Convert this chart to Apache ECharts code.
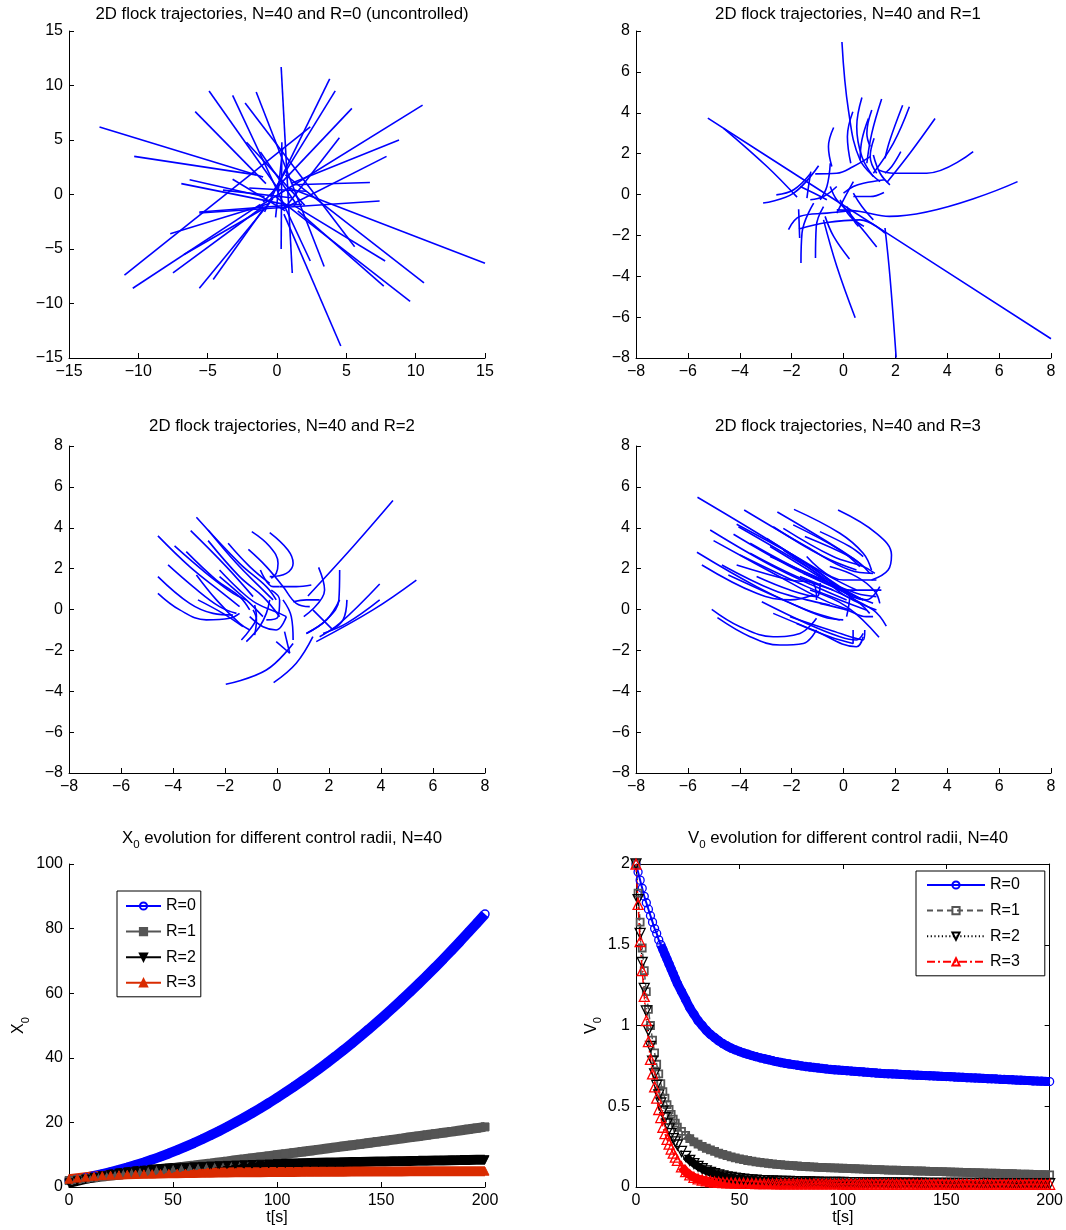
<!DOCTYPE html>
<html><head><meta charset="utf-8">
<script src="https://cdn.jsdelivr.net/npm/echarts@6/dist/echarts.min.js"></script>
<style>html,body{margin:0;padding:0;background:#fff}#c{width:1066px;height:1230px}</style>
</head><body><div id="c"></div>
<script>
// ---------- DATA ----------
const TITLES = [
  '2D flock trajectories, N=40 and R=0 (uncontrolled)',
  '2D flock trajectories, N=40 and R=1',
  '2D flock trajectories, N=40 and R=2',
  '2D flock trajectories, N=40 and R=3'
];
const SERIES_NAMES = ['R=0','R=1','R=2','R=3'];

const TRAJ_R0 = [
[[-12.8,6.2],[-1.0,1.6]],[[-10.3,3.5],[-1.5,1.8]],[[-6.9,1.0],[0.9,-1.0]],[[-6.3,1.35],[-0.9,-0.2]],
[[-7.7,-3.6],[-0.5,-0.8]],[[-11.0,-7.4],[2.4,6.2]],[[0.3,11.7],[1.1,-7.2]],[[3.8,10.6],[-0.9,-1.6]],
[[4.2,9.5],[-0.5,-0.2]],[[-4.9,9.5],[0.2,0.3]],[[-3.2,9.1],[2.4,-6.1]],[[-1.5,9.4],[3.4,-6.6]],
[[-2.3,8.4],[5.6,-4.8]],[[-5.9,7.6],[-0.8,1.0]],[[5.4,7.9],[-1.0,-0.7]],[[10.5,8.2],[-1.3,-1.1]],
[[8.8,5.0],[1.0,1.0]],[[7.9,3.5],[0.3,-1.4]],[[6.7,1.1],[1.2,0.9]],[[7.4,-0.6],[-5.6,-1.7]],
[[15.0,-6.3],[0.9,0.6]],[[10.6,-8.1],[0.6,1.8]],[[9.6,-9.8],[-0.1,-0.2]],[[7.7,-8.4],[1.5,-1.5]],
[[7.8,-6.1],[1.2,-1.0]],[[4.6,-13.9],[0.5,-1.8]],[[0.3,-5.0],[0.35,4.8]],[[-5.6,-8.6],[-0.3,-0.4]],
[[-4.6,-7.8],[-0.9,-1.2]],[[-7.5,-7.2],[-1.0,-1.1]],[[-10.4,-8.6],[-1.2,-0.9]],[[-6.7,-5.5],[-1.1,-1.4]],
[[-2.2,4.8],[2.0,-1.0]],[[4.5,5.2],[0.6,-1.2]],[[-3.2,1.4],[0.6,-1.5]],[[-3.9,0.4],[1.0,-0.3]],
[[-5.6,-1.6],[1.8,-0.9]],[[-0.1,-2.1],[0.4,4.2]],[[-1.2,3.9],[1.4,-0.9]],[[-2.0,0.6],[2.1,0.3]]
];

const TRAJ_R1 = [
[[-5.23,3.74],[-2.0,1.1],[1.6,-1.83],[8.0,-7.06]],
[[-0.06,7.46],[0.19,4.13],[0.64,1.69],[1.41,0.63]],
[[2.03,-7.98],[1.79,-4.0],[1.6,-1.64]],
[[0.45,-6.03],[-0.26,-3.51],[-0.77,-1.24]],
[[6.71,0.63],[1.77,-1.07],[0.64,-0.83],[-0.26,-0.75]],
[[5.0,2.1],[3.21,1.04],[1.92,1.04],[1.35,1.2]],
[[3.53,3.72],[2.56,2.02],[1.67,0.59]],
[[2.54,4.29],[1.92,2.5],[1.15,1.04]],
[[2.28,4.37],[1.79,2.67],[1.6,1.77]],
[[1.47,4.67],[1.09,2.99],[0.9,1.53]],
[[0.71,4.75],[0.51,3.32],[0.71,1.85],[1.15,0.88]],
[[-0.38,3.28],[-0.58,2.34],[-0.45,1.37]],
[[0.36,4.05],[0.15,2.83],[0.28,1.53]],
[[0.96,3.72],[0.71,2.67],[0.64,1.69]],
[[2.21,2.1],[1.86,1.37],[1.6,1.04]],
[[1.18,2.75],[1.03,1.85],[1.28,1.04]],
[[-3.1,-0.42],[-1.92,0.07],[-0.96,1.41]],
[[-2.59,-0.02],[-1.92,0.23],[-1.28,1.01]],
[[-2.12,-1.72],[-1.67,-1.07],[-0.64,-0.91],[0.38,-0.78]],
[[-1.64,-3.35],[-1.6,-1.89],[-1.15,-0.42]],
[[-1.08,-3.11],[-1.05,-1.56],[-0.77,-0.59]],
[[0.23,-3.15],[-0.38,-2.05],[-0.71,-1.07]],
[[1.28,-2.57],[0.64,-1.56],[0.13,-0.75]],
[[-1.73,-0.72],[-1.69,-2.13]],
[[0.79,-1.56],[0.26,-1.07],[-0.13,-0.26]],
[[-1.72,-1.69],[-0.64,-1.37],[0.64,-1.24],[1.6,-1.89]],
[[-0.51,1.53],[-0.64,0.39],[-0.9,-0.26]],
[[-1.26,1.12],[-1.35,0.39],[-1.41,-0.18]],
[[1.56,0.1],[1.03,-0.1],[0.38,-0.1]],
[[0.38,0.63],[0.0,-0.26],[-0.26,-0.91]],
[[-4.62,3.24],[-2.95,1.37],[-1.79,-0.13]],
[[-1.09,1.01],[-0.26,1.04],[0.38,1.37],[1.03,1.85]],
[[1.15,1.93],[1.41,1.04],[1.79,0.47]],
[[0.0,0.07],[0.38,0.39],[0.77,0.55],[1.6,0.72]],
[[0.13,-0.59],[0.38,-1.24],[0.58,-1.56]],
[[-1.28,-0.26],[-0.77,-0.1],[-0.26,0.39]],
[[1.09,4.13],[0.9,2.99],[1.03,2.34]],
[[-0.51,0.39],[-0.26,-0.26],[0.26,-0.91]],
[[-1.67,0.39],[-1.15,0.07],[-0.64,-0.26]],
[[0.38,0.07],[0.71,-0.59],[1.15,-1.24]]
];

const TRAJ_R2 = [
[[4.46,5.33],[2.92,3.07],[1.19,0.66]],
[[5.36,1.44],[3.69,-0.02],[1.51,-1.57]],
[[3.95,1.25],[2.41,-0.68],[1.64,-1.33]],
[[3.95,0.47],[2.67,-0.68],[1.77,-1.17]],
[[2.69,0.47],[2.54,-0.51],[2.09,-1.0]],
[[2.41,1.93],[2.38,0.47],[1.9,-0.51],[1.13,-1.17]],
[[1.6,2.06],[1.83,0.95],[1.03,-0.35]],
[[1.38,-0.02],[2.15,-1.0]],
[[-1.97,-3.66],[-0.41,-2.96],[0.62,-1.66]],
[[-0.13,-3.58],[0.74,-2.63],[1.38,-1.33]],
[[-0.03,-1.57],[0.49,-2.14]],
[[0.29,-1.08],[0.49,-2.14]],
[[1.32,1.2],[0.74,1.12],[0.1,1.12]],
[[1.64,0.47],[1.13,0.47],[0.62,0.38]],
[[-0.28,3.76],[0.42,2.91],[0.62,2.26],[0.36,1.77],[-0.28,1.61]],
[[-0.97,3.81],[-0.28,3.08],[0.04,2.26],[-0.03,1.77],[-0.22,1.53]],
[[-1.1,2.94],[-0.41,2.1],[0.23,1.12],[0.74,0.3],[1.26,0.14]],
[[-3.1,4.51],[-1.44,2.26],[-0.41,1.12],[-0.03,0.47]],
[[-3.32,3.86],[-1.95,2.1],[-0.92,0.63]],
[[-4.58,3.6],[-3.36,2.1],[-2.08,0.79],[-1.44,0.14]],
[[-4.58,1.61],[-3.36,0.3],[-2.46,-0.19],[-1.69,-0.27]],
[[-4.58,0.79],[-3.74,-0.02],[-2.72,-0.51],[-1.82,-0.43],[-1.44,-0.19]],
[[-4.19,2.18],[-3.23,1.12],[-2.21,0.14],[-1.56,-0.19]],
[[-3.94,3.11],[-2.72,1.77],[-1.69,0.79],[-1.18,0.47]],
[[-3.49,2.83],[-2.33,1.44],[-1.44,0.63],[-1.05,-0.02]],
[[-2.65,3.89],[-1.56,2.26],[-0.67,1.12],[-0.15,0.47]],
[[-2.65,3.37],[-1.44,1.61],[-0.54,0.63],[0.1,-0.35]],
[[-1.88,3.24],[-1.05,2.1],[-0.28,1.28]],
[[-2.21,1.93],[-1.44,0.95],[-0.79,0.3],[0.1,-0.19],[0.36,-0.35]],
[[-3.1,1.69],[-2.33,0.47],[-1.44,-0.68],[-1.05,-1.0]],
[[-3.04,0.47],[-2.08,-0.19],[-1.31,-0.84]],
[[-1.37,-1.49],[-1.05,-1.0],[-0.79,-0.35],[-0.86,0.22]],
[[-1.18,-1.57],[-0.67,-0.84],[-0.41,-0.19],[-0.28,0.47]],
[[-0.86,-1.25],[-0.79,-0.51],[-0.92,-0.02]],
[[0.36,-0.35],[-0.03,-1.0],[-0.54,-0.84],[-1.05,-0.35]],
[[-0.22,0.95],[0.1,0.47],[0.04,-0.35],[-0.41,-0.51]],
[[0.62,-1.49],[0.55,-0.35],[0.23,0.47]],
[[1.13,-1.17],[1.9,-0.51],[2.41,0.47]],
[[-0.64,1.93],[-0.15,1.12],[0.1,1.12]],
[[-2.21,1.61],[-1.18,0.47],[-0.54,-0.35]]
];

const TRAJ_R3 = [
[[-5.63,5.49],[-2.06,2.75],[-0.14,1.12],[0.76,0.47]],
[[-3.83,4.87],[-1.42,3.07],[0.24,1.93],[1.14,1.77]],
[[-2.55,4.77],[-0.53,3.24],[0.63,2.26],[1.01,1.77]],
[[-1.91,4.9],[-0.14,3.73],[0.76,2.75],[1.08,1.93]],
[[-0.21,4.87],[1.27,3.73],[1.85,2.67],[1.72,1.93],[1.08,1.44]],
[[-5.14,3.89],[-2.71,2.1],[-0.78,0.95],[0.12,0.47]],
[[-4.12,4.17],[-2.06,2.75],[-0.53,1.61],[0.5,0.95]],
[[-4.24,3.68],[-2.06,2.1],[-0.14,0.95],[1.14,0.3]],
[[-5.01,3.37],[-2.71,1.77],[-0.78,0.47],[0.24,-0.02]],
[[-5.65,2.8],[-3.35,1.12],[-1.42,-0.02],[-0.14,-0.51]],
[[-5.46,2.18],[-3.35,0.79],[-2.06,0.47],[-1.17,0.71]],
[[-4.69,2.18],[-2.71,0.95],[-1.42,0.47],[-0.53,0.22]],
[[-4.44,1.69],[-2.32,0.47],[-0.78,-0.35],[-0.01,-0.51]],
[[-3.15,0.38],[-1.42,-0.68],[-0.14,-1.33],[0.5,-1.49],[0.76,-1.17]],
[[-5.08,0.01],[-3.99,-0.84],[-2.71,-1.33],[-1.68,-1.17],[-1.04,-0.43]],
[[-4.86,-0.4],[-3.6,-1.33],[-2.45,-1.74],[-1.55,-1.66],[-1.04,-1.0]],
[[-3.99,2.67],[-1.42,1.12],[-0.14,0.47],[0.88,-0.02]],
[[-3.6,3.24],[-1.42,1.77],[0.5,0.79],[1.27,0.63]],
[[-2.83,2.59],[-0.78,1.44],[0.88,0.47],[1.4,1.12]],
[[-2.71,4.05],[-0.78,2.59],[0.5,1.93]],
[[-2.32,3.97],[-0.4,2.59],[0.76,2.1],[1.21,1.77]],
[[-1.94,4.14],[-0.14,2.91],[0.63,2.1]],
[[-1.49,3.57],[0.24,2.59],[0.76,2.1]],
[[-4.05,4.05],[-1.42,2.1],[-0.01,0.95],[0.76,0.47]],
[[-2.83,3.08],[-0.53,1.28],[0.24,0.63],[0.12,-0.35]],
[[-1.68,1.61],[-0.14,0.79],[1.14,-0.02],[1.65,-0.81]],
[[-1.29,0.95],[0.12,0.14],[1.37,-1.36]],
[[-2.06,-0.35],[-0.53,-1.0],[0.76,-1.49],[0.82,-1.0]],
[[-1.55,1.77],[-0.14,0.95],[0.63,0.3],[1.01,-0.19]],
[[-0.91,0.3],[0.12,-0.02],[0.88,-0.35],[1.14,-0.35]],
[[-0.53,2.1],[0.5,1.61],[1.2,0.9],[1.4,0.3]],
[[-1.42,2.59],[-0.01,1.44],[1.27,1.44]],
[[-3.35,1.61],[-2.06,0.95],[-1.04,0.63],[-0.9,1.3]],
[[-2.71,-0.19],[-1.17,-1.0],[0.5,-1.82],[0.76,-1.33]],
[[-1.81,-0.68],[-0.53,-1.33],[0.37,-1.66],[0.37,-1.0]],
[[-2.32,2.91],[-1.04,1.77],[0.12,0.63],[1.27,-0.02]],
[[-3.6,2.75],[-1.81,1.61],[-0.4,0.95]],
[[-4.12,2.18],[-2.06,1.44],[-1.17,1.28],[-1.04,0.47]],
[[-2.96,3.48],[-1.04,1.93],[0.24,0.95],[1.46,0.95]],
[[-0.91,3.81],[0.24,3.08],[0.76,2.59]]
];

// X0 evolution, sampled every 4 s
const T_X = [0,4,8,12,16,20,24,28,32,36,40,44,48,52,56,60,64,68,72,76,80,84,88,92,96,100,104,108,112,116,120,124,128,132,136,140,144,148,152,156,160,164,168,172,176,180,184,188,192,196,200];
const X0_R0 = [2.0,2.42,2.9,3.42,3.99,4.62,5.29,6.01,6.79,7.61,8.48,9.41,10.38,11.41,12.48,13.6,14.78,16.0,17.28,18.6,19.98,21.4,22.88,24.4,25.97,27.6,29.28,31.0,32.78,34.6,36.48,38.4,40.38,42.4,44.48,46.6,48.78,51.01,53.28,55.61,57.98,60.41,62.89,65.41,67.99,70.62,73.29,76.02,78.8,81.62,84.5];
const X0_R1 = [2.0,2.3,2.6,2.91,3.21,3.52,3.82,4.13,4.44,4.75,5.06,5.38,5.69,6.01,6.33,6.64,6.96,7.28,7.61,7.93,8.26,8.58,8.91,9.24,9.57,9.9,10.23,10.57,10.9,11.24,11.58,11.92,12.26,12.6,12.94,13.28,13.63,13.98,14.32,14.67,15.02,15.38,15.73,16.08,16.44,16.8,17.15,17.51,17.87,18.24,18.6];
const X0_R2 = [1.3,1.9,2.5,3.0,3.5,3.9,4.3,4.6,4.9,5.15,5.4,5.6,5.8,5.95,6.1,6.25,6.38,6.5,6.6,6.7,6.8,6.88,6.96,7.04,7.11,7.18,7.25,7.31,7.37,7.43,7.49,7.55,7.6,7.66,7.71,7.76,7.81,7.86,7.91,7.96,8.01,8.06,8.1,8.15,8.2,8.24,8.29,8.33,8.38,8.42,8.46];
const X0_R3 = [2.4,2.75,3.05,3.3,3.5,3.67,3.8,3.91,4.0,4.07,4.13,4.19,4.24,4.29,4.33,4.37,4.41,4.44,4.47,4.5,4.53,4.55,4.58,4.6,4.62,4.64,4.66,4.68,4.69,4.71,4.72,4.74,4.75,4.76,4.77,4.78,4.79,4.8,4.81,4.82,4.83,4.84,4.84,4.85,4.86,4.86,4.87,4.88,4.88,4.89,4.9];

// V0 evolution
const T_V = [0,1,2,3,4,5,6,7,8,9,10,11,12,13,14,15,16,17,18,19,20,22,24,26,28,30,32,34,36,38,40,42,44,46,48,50,52,54,56,58,60,62,64,66,68,70,72,74,76,78,80,82,84,86,88,90,92,94,96,98,100,102,104,106,108,110,112,114,116,118,120,122,124,126,128,130,132,134,136,138,140,142,144,146,148,150,152,154,156,158,160,162,164,166,168,170,172,174,176,178,180,182,184,186,188,190,192,194,196,198,200];
const V0_R0 = [2.0,1.95,1.9,1.85,1.8,1.76,1.72,1.68,1.64,1.6,1.57,1.53,1.5,1.47,1.44,1.41,1.38,1.35,1.32,1.29,1.26,
1.21,1.16,1.11,1.07,1.03,1.0,0.97,0.945,0.925,0.905,0.888,0.873,0.86,0.849,0.839,0.83,0.822,0.814,0.807,0.8,
0.794,0.788,0.782,0.776,0.771,0.766,0.762,0.758,0.754,0.75,
0.746,0.743,0.74,0.737,0.734,0.731,0.728,0.726,0.724,0.722,
0.72,0.718,0.716,0.714,0.712,0.71,0.708,0.706,0.704,0.702,
0.701,0.7,0.699,0.697,0.696,0.695,0.693,0.692,0.691,0.69,
0.689,0.688,0.686,0.685,0.684,0.683,0.681,0.68,0.679,0.677,
0.676,0.675,0.674,0.672,0.671,0.67,0.669,0.667,0.666,0.665,
0.664,0.662,0.661,0.66,0.659,0.657,0.656,0.655,0.654,0.653];
const V0_R1 = [2.0,1.82,1.64,1.48,1.34,1.21,1.1,1.0,0.91,0.83,0.76,0.7,0.64,0.59,0.55,0.51,0.48,0.45,0.42,0.395,0.37,
0.345,0.32,0.3,0.28,0.265,0.252,0.24,0.23,0.22,0.21,0.202,0.194,0.187,0.18,0.174,0.169,0.164,0.16,0.156,0.152,
0.149,0.146,0.143,0.14,0.138,0.136,0.134,0.132,0.13,0.128,
0.127,0.125,0.124,0.122,0.121,0.12,0.119,0.118,0.117,0.116,
0.115,0.114,0.113,0.112,0.111,0.11,0.109,0.108,0.107,0.106,
0.105,0.104,0.104,0.103,0.102,0.101,0.1,0.099,0.099,0.098,
0.097,0.096,0.095,0.095,0.094,0.093,0.092,0.092,0.091,0.09,
0.089,0.089,0.088,0.087,0.086,0.086,0.085,0.084,0.083,0.083,
0.082,0.081,0.08,0.08,0.079,0.078,0.077,0.077,0.076,0.075];
const V0_R2 = [2.0,1.78,1.57,1.39,1.23,1.09,0.97,0.87,0.78,0.7,0.63,0.57,0.52,0.47,0.43,0.39,0.36,0.33,0.3,0.28,0.26,
0.22,0.19,0.165,0.145,0.128,0.113,0.1,0.09,0.082,0.075,0.069,0.063,0.059,0.055,0.052,0.049,0.046,0.044,0.042,0.04,
0.039,0.038,0.037,0.036,0.035,0.034,0.034,0.033,0.032,0.032,
0.031,0.031,0.03,0.03,0.029,0.029,0.029,0.028,0.028,0.028,
0.027,0.027,0.027,0.027,0.026,0.026,0.026,0.026,0.025,0.025,
0.025,0.025,0.025,0.024,0.024,0.024,0.024,0.024,0.024,0.023,
0.023,0.023,0.023,0.023,0.023,0.023,0.022,0.022,0.022,0.022,
0.022,0.022,0.022,0.022,0.022,0.021,0.021,0.021,0.021,0.021,
0.021,0.021,0.021,0.021,0.021,0.021,0.02,0.02,0.02,0.02];
const V0_R3 = [2.0,1.75,1.52,1.34,1.18,1.03,0.9,0.79,0.7,0.62,0.55,0.48,0.43,0.37,0.33,0.295,0.265,0.235,0.21,0.185,0.165,
0.125,0.095,0.075,0.06,0.05,0.043,0.038,0.034,0.031,0.029,0.027,0.026,0.025,0.024,0.0235,0.023,0.0225,0.022,0.0215,0.021,
0.0208,0.0206,0.0204,0.0202,0.02,0.0199,0.0198,0.0197,0.0196,0.0195,
0.0194,0.0193,0.0192,0.0191,0.019,0.019,0.0189,0.0188,0.0188,0.0187,
0.0186,0.0186,0.0185,0.0185,0.0184,0.0184,0.0183,0.0183,0.0182,0.0182,
0.0181,0.0181,0.018,0.018,0.018,0.0179,0.0179,0.0178,0.0178,0.0178,
0.0177,0.0177,0.0177,0.0176,0.0176,0.0176,0.0175,0.0175,0.0175,0.0174,
0.0174,0.0174,0.0173,0.0173,0.0173,0.0172,0.0172,0.0172,0.0171,0.0171,
0.0171,0.017,0.017,0.017,0.017,0.0169,0.0169,0.0169,0.0168,0.0168];

// ---------- CHART ----------
const FONT = '"Liberation Sans", Arial, Helvetica, sans-serif';
const BLUE = '#0000ff';
const minus = v => String(v).replace('-', '\u2212');
const zip = (t, v) => t.map((x, i) => [x, v[i]]);

function mkAxis(o) {
  return Object.assign({
    type: 'value',
    axisLine: {show: true, onZero: false, lineStyle: {color: '#000', width: 1}},
    axisTick: {show: true, inside: true, length: 5, lineStyle: {color: '#000', width: 1}},
    splitLine: {show: false},
    axisLabel: {show: true, color: '#000', fontSize: 16, fontFamily: FONT, margin: 6, formatter: minus}
  }, o);
}
const nameStyle = {
  color: '#000', fontFamily: FONT, fontSize: 16,
  rich: {
    n: {fontSize: 16, lineHeight: 18, fontFamily: FONT, color: '#000', verticalAlign: 'top'},
    s: {fontSize: 11, lineHeight: 12, fontFamily: FONT, color: '#000', verticalAlign: 'top', padding: [9, 0, 0, 0]}
  }
};

const grid = [
  {left: 69, top: 31, width: 416, height: 327},
  {left: 636, top: 31, width: 415, height: 327},
  {left: 69, top: 446, width: 416, height: 327},
  {left: 636, top: 446, width: 415, height: 327},
  {left: 69, top: 864, width: 416, height: 323},
  {left: 636, top: 864, width: 415, height: 323}
];

const xAxis = [
  mkAxis({gridIndex: 0, min: -15, max: 15, interval: 5}),
  mkAxis({gridIndex: 1, min: -8, max: 8, interval: 2}),
  mkAxis({gridIndex: 2, min: -8, max: 8, interval: 2}),
  mkAxis({gridIndex: 3, min: -8, max: 8, interval: 2}),
  mkAxis({gridIndex: 4, min: 0, max: 200, interval: 50, name: 't[s]', nameLocation: 'middle', nameGap: 22,
          nameTextStyle: {color: '#000', fontFamily: FONT, fontSize: 16}}),
  mkAxis({gridIndex: 5, min: 0, max: 200, interval: 50, name: 't[s]', nameLocation: 'middle', nameGap: 22,
          nameTextStyle: {color: '#000', fontFamily: FONT, fontSize: 16}}),
  mkAxis({gridIndex: 5, min: 0, max: 200, interval: 50, position: 'top', axisLabel: {show: false}})
];
const yAxis = [
  mkAxis({gridIndex: 0, min: -15, max: 15, interval: 5}),
  mkAxis({gridIndex: 1, min: -8, max: 8, interval: 2}),
  mkAxis({gridIndex: 2, min: -8, max: 8, interval: 2}),
  mkAxis({gridIndex: 3, min: -8, max: 8, interval: 2}),
  mkAxis({gridIndex: 4, min: 0, max: 100, interval: 20, name: '{n|X}{s|0}', nameLocation: 'middle', nameGap: 40, nameTextStyle: nameStyle}),
  mkAxis({gridIndex: 5, min: 0, max: 2, interval: 0.5, name: '{n|V}{s|0}', nameLocation: 'middle', nameGap: 31, nameTextStyle: nameStyle}),
  mkAxis({gridIndex: 5, min: 0, max: 2, interval: 0.5, position: 'right', axisLabel: {show: false}})
];

const series = [];
[TRAJ_R0, TRAJ_R1, TRAJ_R2, TRAJ_R3].forEach((set, p) => {
  set.forEach(line => {
    series.push({
      type: 'line', xAxisIndex: p, yAxisIndex: p, data: line,
      smooth: p === 0 ? false : 0.4, symbol: 'none', silent: true,
      lineStyle: {color: BLUE, width: 1.6}
    });
  });
});

const X_DATA = [X0_R0, X0_R1, X0_R2, X0_R3];
const X_COL = [BLUE, '#555555', '#000000', '#d92b00'];
const X_SYM = ['circle', 'rect', 'triangle', 'triangle'];
const X_ROT = [0, 0, 180, 0];
X_DATA.forEach((arr, k) => {
  series.push({
    type: 'line', name: 'X0:' + SERIES_NAMES[k], xAxisIndex: 4, yAxisIndex: 4, clip: false,
    data: zip(T_X, arr), symbol: X_SYM[k], symbolRotate: X_ROT[k], symbolSize: 8, showAllSymbol: true,
    itemStyle: k === 0 ? {color: 'rgba(0,0,0,0)', borderColor: BLUE, borderWidth: 1.5} : {color: X_COL[k], borderColor: X_COL[k], borderWidth: 1},
    lineStyle: {color: X_COL[k], width: 10}, silent: true
  });
});

const V_DATA = [V0_R0, V0_R1, V0_R2, V0_R3];
const V_COL = [BLUE, '#555555', '#000000', '#ff0000'];
const V_SYM = ['circle', 'rect', 'triangle', 'triangle'];
const V_ROT = [0, 0, 180, 0];
const V_SIZE = [8, 7, 10, 10];
const V_DASH = ['solid', [6, 4], [1.2, 2.5], [8, 3, 2, 3]];
const V_LW = [2, 1.5, 1.2, 1.5];
const V_BAND_FROM = [12, 24, 24, 22];
const V_BAND_W = [9, 8, 8, 9];
// dense-marker bands (where overlapping markers read as a solid band in the original)
V_DATA.forEach((arr, k) => {
  series.push({
    type: 'line', name: 'band' + k, xAxisIndex: 5, yAxisIndex: 5, clip: false,
    data: zip(T_V, arr).filter(d => d[0] >= V_BAND_FROM[k]), symbol: 'none', silent: true,
    smooth: 0.3, lineStyle: {color: V_COL[k], width: V_BAND_W[k]}
  });
});
V_DATA.forEach((arr, k) => {
  series.push({
    type: 'line', name: 'V0:' + SERIES_NAMES[k], xAxisIndex: 5, yAxisIndex: 5, clip: false,
    data: zip(T_V, arr), symbol: V_SYM[k], symbolRotate: V_ROT[k], symbolSize: V_SIZE[k], showAllSymbol: true,
    itemStyle: {color: 'rgba(0,0,0,0)', borderColor: V_COL[k], borderWidth: k === 1 ? 1.8 : 1.3},
    smooth: 0.3, lineStyle: {color: V_COL[k], width: V_LW[k], type: V_DASH[k]}, silent: true
  });
});

const titleStyle = {fontSize: 16.8, fontWeight: 'normal', fontFamily: FONT, color: '#000'};
const richTitle = {
  n: {fontSize: 16.8, lineHeight: 19, fontFamily: FONT, color: '#000', verticalAlign: 'top'},
  s: {fontSize: 11.5, lineHeight: 13, fontFamily: FONT, color: '#000', verticalAlign: 'top', padding: [9, 0, 0, 0]}
};
const title = [
  {text: TITLES[0], left: 277, top: 1, textAlign: 'center', textStyle: titleStyle},
  {text: TITLES[1], left: 843, top: 1, textAlign: 'center', textStyle: titleStyle},
  {text: TITLES[2], left: 277, top: 413, textAlign: 'center', textStyle: titleStyle},
  {text: TITLES[3], left: 843, top: 413, textAlign: 'center', textStyle: titleStyle},
  {text: '{n|X}{s|0}{n| evolution for different control radii, N=40}', left: 277, top: 825, textAlign: 'center',
   textStyle: Object.assign({}, titleStyle, {rich: richTitle})},
  {text: '{n|V}{s|0}{n| evolution for different control radii, N=40}', left: 843, top: 825, textAlign: 'center',
   textStyle: Object.assign({}, titleStyle, {rich: richTitle})}
];

const legendBase = {
  orient: 'vertical', itemHeight: 9, itemGap: 9.6, borderColor: '#000', borderWidth: 1, backgroundColor: '#fff',
  borderRadius: 0, selectedMode: false, formatter: n => n.split(':')[1],
  textStyle: {fontSize: 16, fontFamily: FONT, color: '#000', lineHeight: 16}
};
const legend = [
  Object.assign({}, legendBase, {data: SERIES_NAMES.map(n => 'X0:' + n), left: 117, top: 891, itemWidth: 35,
    padding: [7, 5, 6, 8], lineStyle: {width: 2}}),
  Object.assign({}, legendBase, {data: SERIES_NAMES.map(n => 'V0:' + n), left: 916, top: 871, itemWidth: 58,
    padding: [6, 25, 6, 10]})
];

const chart = echarts.init(document.getElementById('c'), null, {renderer: 'canvas'});
chart.setOption({animation: false, backgroundColor: '#fff', title, legend, grid, xAxis, yAxis, series});
</script>
</body></html>
